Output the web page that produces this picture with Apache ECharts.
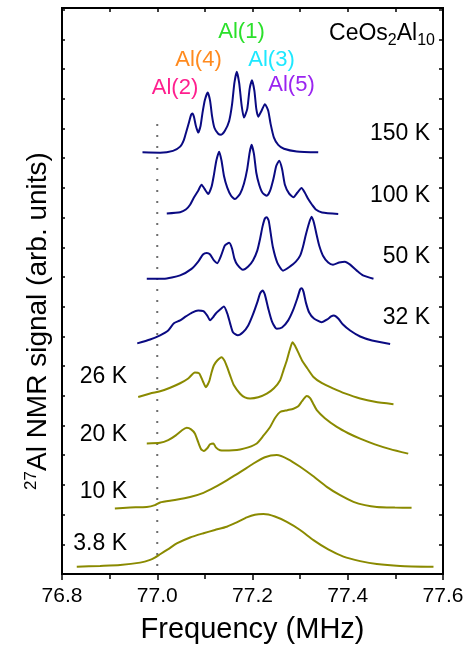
<!DOCTYPE html>
<html><head><meta charset="utf-8">
<script src="https://cdn.jsdelivr.net/npm/echarts@6/dist/echarts.min.js"></script>
<style>html,body{margin:0;padding:0;background:#fff;overflow:hidden;width:475px;height:645px}#c{position:absolute;left:0;top:0;width:475px;height:645px}</style>
</head><body><div id="c"></div>
<script>
// Frequency (MHz) vs NMR signal (arb. units, vertically offset per temperature)
const xTicks = [76.8, 77.0, 77.2, 77.4, 77.6];
const tempLabels = ['150 K','100 K','50 K','32 K','26 K','20 K','10 K','3.8 K'];
const siteLabels = ['Al(1)','Al(4)','Al(3)','Al(2)','Al(5)'];
const guideFreq = 77.0;
const guideRange = [0.27, 15.17];

const k150 = [[76.969,14.08],[77.006,14.07],[77.033,14.13],[77.048,14.27],[77.056,14.5],[77.061,14.77],[77.067,15.1],[77.071,15.33],[77.074,15.38],[77.077,15.27],[77.081,14.97],[77.086,14.74],[77.091,14.97],[77.095,15.4],[77.100,15.83],[77.106,16.08],[77.111,15.8],[77.115,15.3],[77.120,14.9],[77.128,14.7],[77.134,14.67],[77.142,14.8],[77.151,15.13],[77.157,15.67],[77.162,16.4],[77.167,16.77],[77.172,16.4],[77.177,15.67],[77.182,15.24],[77.189,15.53],[77.194,16.2],[77.199,16.49],[77.204,16.13],[77.208,15.53],[77.212,15.27],[77.219,15.47],[77.226,15.69],[77.233,15.47],[77.238,15.03],[77.245,14.57],[77.254,14.33],[77.266,14.2],[77.293,14.11],[77.338,14.08]];
const k100 = [[77.020,12.04],[77.048,12.08],[77.060,12.17],[77.069,12.33],[77.077,12.57],[77.086,12.8],[77.093,13.0],[77.099,12.87],[77.107,12.69],[77.114,12.93],[77.119,13.33],[77.124,13.8],[77.130,14.1],[77.135,13.8],[77.140,13.3],[77.147,12.9],[77.155,12.63],[77.163,12.52],[77.174,12.7],[77.182,13.03],[77.189,13.53],[77.194,14.07],[77.198,14.33],[77.203,14.03],[77.208,13.4],[77.214,13.0],[77.221,12.73],[77.230,12.63],[77.237,12.8],[77.244,13.2],[77.250,13.63],[77.256,13.8],[77.262,13.53],[77.268,13.0],[77.277,12.7],[77.286,12.58],[77.294,12.73],[77.303,12.89],[77.310,12.73],[77.317,12.52],[77.325,12.33],[77.333,12.17],[77.346,12.07],[77.380,12.02]];
const k50 = [[76.978,9.86],[77.013,9.86],[77.048,9.97],[77.072,10.19],[77.086,10.43],[77.096,10.67],[77.104,10.72],[77.111,10.67],[77.119,10.47],[77.126,10.38],[77.134,10.63],[77.142,10.97],[77.151,11.06],[77.157,10.87],[77.162,10.53],[77.168,10.33],[77.180,10.16],[77.191,10.27],[77.201,10.47],[77.210,10.8],[77.216,11.2],[77.221,11.6],[77.226,11.87],[77.230,11.91],[77.234,11.8],[77.238,11.4],[77.243,10.9],[77.252,10.4],[77.264,10.13],[77.279,10.27],[77.291,10.43],[77.300,10.63],[77.306,10.93],[77.312,11.33],[77.319,11.73],[77.324,11.93],[77.329,11.73],[77.335,11.3],[77.340,10.97],[77.348,10.63],[77.359,10.4],[77.369,10.33],[77.382,10.4],[77.394,10.43],[77.405,10.33],[77.419,10.13],[77.432,9.97],[77.454,9.86]];
const k32 = [[76.958,7.7],[76.985,7.83],[77.006,7.97],[77.023,8.13],[77.035,8.37],[77.048,8.47],[77.060,8.6],[77.073,8.73],[77.086,8.8],[77.097,8.78],[77.105,8.63],[77.111,8.47],[77.117,8.57],[77.123,8.7],[77.132,8.83],[77.140,8.93],[77.147,8.7],[77.153,8.37],[77.159,8.07],[77.169,7.97],[77.180,8.07],[77.191,8.3],[77.201,8.67],[77.210,9.07],[77.216,9.37],[77.221,9.47],[77.226,9.33],[77.233,8.87],[77.241,8.43],[77.251,8.19],[77.262,8.23],[77.275,8.47],[77.285,8.8],[77.294,9.2],[77.300,9.5],[77.303,9.54],[77.307,9.43],[77.312,9.07],[77.319,8.73],[77.329,8.53],[77.345,8.41],[77.357,8.5],[77.365,8.6],[77.371,8.63],[77.380,8.53],[77.390,8.33],[77.405,8.13],[77.426,7.93],[77.451,7.8],[77.489,7.68]];
const k26 = [[76.960,5.91],[76.985,6.03],[77.006,6.1],[77.027,6.22],[77.048,6.37],[77.065,6.53],[77.079,6.73],[77.088,6.7],[77.096,6.43],[77.102,6.24],[77.109,6.43],[77.114,6.73],[77.119,6.97],[77.126,7.13],[77.135,7.24],[77.141,7.13],[77.147,6.9],[77.153,6.63],[77.161,6.3],[77.174,6.02],[77.184,5.9],[77.195,5.86],[77.212,5.9],[77.230,6.02],[77.245,6.2],[77.258,6.47],[77.265,6.8],[77.272,7.13],[77.278,7.47],[77.284,7.74],[77.289,7.63],[77.296,7.4],[77.304,7.13],[77.315,6.87],[77.328,6.58],[77.346,6.37],[77.370,6.19],[77.394,6.03],[77.426,5.86],[77.457,5.75],[77.496,5.67]];
const k20 = [[76.978,4.36],[77.006,4.38],[77.023,4.47],[77.039,4.63],[77.052,4.8],[77.062,4.88],[77.071,4.83],[77.079,4.69],[77.086,4.4],[77.092,4.17],[77.098,4.11],[77.105,4.2],[77.111,4.33],[77.118,4.36],[77.123,4.23],[77.132,4.13],[77.142,4.12],[77.159,4.13],[77.174,4.16],[77.191,4.23],[77.209,4.36],[77.222,4.6],[77.237,4.91],[77.247,5.2],[77.258,5.41],[77.273,5.47],[77.286,5.52],[77.296,5.6],[77.304,5.77],[77.314,5.94],[77.321,5.87],[77.327,5.7],[77.335,5.47],[77.352,5.2],[77.377,4.91],[77.401,4.7],[77.426,4.52],[77.457,4.33],[77.489,4.17],[77.527,4.02]];
const k10 = [[76.911,2.19],[76.943,2.22],[76.978,2.24],[76.995,2.3],[77.006,2.39],[77.037,2.47],[77.069,2.57],[77.097,2.71],[77.121,2.9],[77.146,3.13],[77.174,3.4],[77.202,3.69],[77.226,3.9],[77.251,3.97],[77.275,3.83],[77.300,3.58],[77.327,3.27],[77.356,2.91],[77.384,2.63],[77.412,2.41],[77.436,2.3],[77.461,2.24],[77.499,2.22],[77.534,2.21]];
const k3p8 = [[76.831,0.24],[76.880,0.27],[76.922,0.3],[76.964,0.38],[76.985,0.47],[76.995,0.55],[77.006,0.66],[77.023,0.83],[77.041,1.02],[77.069,1.22],[77.097,1.36],[77.121,1.47],[77.146,1.58],[77.168,1.73],[77.188,1.89],[77.205,1.98],[77.223,2.0],[77.247,1.92],[77.272,1.74],[77.300,1.47],[77.328,1.13],[77.359,0.82],[77.391,0.58],[77.426,0.43],[77.461,0.33],[77.510,0.27],[77.580,0.24]];

const NAVY = '#0a0a82', OLIVE = '#8a8a00';
const FONT = 'Liberation Sans, Arial, sans-serif';
const curves = [[k150,NAVY],[k100,NAVY],[k50,NAVY],[k32,NAVY],[k26,OLIVE],[k20,OLIVE],[k10,OLIVE],[k3p8,OLIVE]];

const chart = echarts.init(document.getElementById('c'), null, {renderer:'canvas', width:475, height:645});
const series = curves.map(([d,c]) => ({
  type:'line', data:d, showSymbol:false, smooth:0.2, xAxisIndex:0, yAxisIndex:0,
  lineStyle:{color:c, width:2}, silent:true, z:3
}));
series.push({
  type:'line', data:[[guideFreq,guideRange[0]],[guideFreq,guideRange[1]]], showSymbol:false,
  lineStyle:{color:'#6e6e6e', width:2, type:[2,9]}, silent:true, z:2
});

function tl(text, x, y, align, size, color) {
  return {type:'text', x:x, y:y, style:{text:text, fill:color||'#000', font:(size||23)+'px '+FONT, textAlign:align, textVerticalAlign:'middle'}};
}
const graphics = [
  tl(tempLabels[0],430,134,'right'), tl(tempLabels[1],430,196,'right'),
  tl(tempLabels[2],430,257,'right'), tl(tempLabels[3],430,318,'right'),
  tl(tempLabels[4],127,377,'right'), tl(tempLabels[5],127,435,'right'),
  tl(tempLabels[6],127,492,'right'), tl(tempLabels[7],127,544,'right'),
  tl(siteLabels[0],241.5,32,'center',22,'#2be02b'),
  tl(siteLabels[1],198.5,60,'center',22,'#ff8a1e'),
  tl(siteLabels[2],271.5,60,'center',22,'#1ee8ff'),
  tl(siteLabels[3],175,88,'center',22,'#ff1f8e'),
  tl(siteLabels[4],291.5,85,'center',22,'#9a24f0'),
  {type:'text', x:435, y:34, style:{
    text:'{n|CeOs}{s|2}{n|Al}{s|10}', textAlign:'right', textVerticalAlign:'middle',
    rich:{n:{fontSize:23,fontFamily:FONT,fill:'#000'}, s:{fontSize:16,fontFamily:FONT,fill:'#000',padding:[14,0,0,0]}}
  }},
  {type:'text', x:38, y:321, rotation:Math.PI/2, style:{
    text:'{s|27}{n|Al NMR signal (arb. units)}', textAlign:'center', textVerticalAlign:'middle',
    rich:{n:{fontSize:28,fontFamily:FONT,fill:'#000'}, s:{fontSize:17,fontFamily:FONT,fill:'#000',padding:[0,0,14,0]}}
  }}
];

chart.setOption({
  animation:false,
  backgroundColor:'#fff',
  grid:{left:62, right:32, top:8, bottom:71, containLabel:false, outerBoundsMode:'none',
        show:true, borderColor:'#000', borderWidth:2, backgroundColor:'transparent'},
  xAxis:[{
    type:'value', position:'bottom', min:xTicks[0], max:xTicks[xTicks.length-1], interval:0.2,
    axisLine:{show:true, onZero:false, lineStyle:{color:'#000', width:2}},
    axisTick:{show:true, inside:false, length:6, lineStyle:{color:'#000', width:1.5}},
    minorTick:{show:true, splitNumber:2, length:5, lineStyle:{color:'#000', width:1.5}},
    splitLine:{show:false},
    axisLabel:{fontSize:21, fontFamily:FONT, color:'#000', margin:12, formatter:v=>v.toFixed(1)},
    name:'Frequency (MHz)', nameLocation:'middle', nameGap:41,
    nameTextStyle:{fontSize:29, fontFamily:FONT, color:'#000'}
  },{
    type:'value', position:'top', min:xTicks[0], max:xTicks[xTicks.length-1], interval:0.2,
    axisLine:{show:true, onZero:false, lineStyle:{color:'#000', width:2}},
    axisTick:{show:true, inside:true, length:4, lineStyle:{color:'#000', width:1.5}},
    minorTick:{show:true, splitNumber:2, length:4, lineStyle:{color:'#000', width:1.5}},
    axisLabel:{show:false}, splitLine:{show:false}
  }],
  yAxis:[{
    type:'value', position:'left', min:0, max:18.9, interval:0.9917,
    axisLine:{show:true, onZero:false, lineStyle:{color:'#000', width:2}},
    axisTick:{show:true, inside:true, length:3, lineStyle:{color:'#000', width:1.5}},
    axisLabel:{show:false}, splitLine:{show:false}
  },{
    type:'value', position:'right', min:0, max:18.9, interval:0.9917,
    axisLine:{show:true, onZero:false, lineStyle:{color:'#000', width:2}},
    axisTick:{show:true, inside:true, length:4, lineStyle:{color:'#000', width:1.5}},
    axisLabel:{show:false}, splitLine:{show:false}
  }],
  series:series,
  graphic:graphics
});
</script></body></html>
